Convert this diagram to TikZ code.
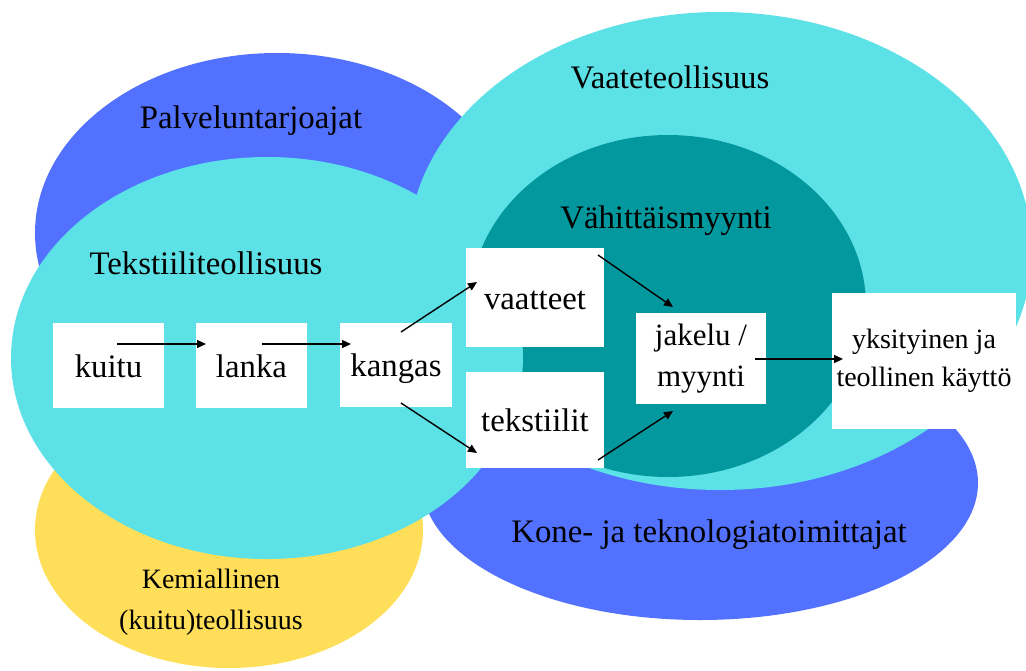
\documentclass[tikz,border=0pt]{standalone}
\usepackage{fontspec}
\setmainfont{Liberation Serif}
\usetikzlibrary{arrows.meta}
\definecolor{bluec}{HTML}{5271FF}
\definecolor{cyanc}{HTML}{5CE1E6}
\definecolor{tealc}{HTML}{03989E}
\definecolor{yellowc}{HTML}{FFDE59}
\tikzset{
  big/.style={font=\fontsize{32.8}{40}\selectfont},
  small/.style={font=\fontsize{28}{38}\selectfont},
  lbl/.style={big, anchor=base, inner sep=0pt},
  lblsmall/.style={small, anchor=base, inner sep=0pt},
  boxnode/.style={fill=white, inner sep=0pt, big, text height=23pt, text depth=0pt},
  flow/.style={line width=1.4pt, -{Triangle[length=9pt,width=8pt]}}
}
\begin{document}
\begin{tikzpicture}[x=1pt,y=-1pt]
\useasboundingbox (0,0) rectangle (1026,670);
% background ellipses
\fill[bluec] (277,233) ellipse [x radius=242pt, y radius=180pt];
\fill[yellowc] (229,530) ellipse [x radius=194pt, y radius=138pt];
\fill[bluec] (700,483) ellipse [x radius=278pt, y radius=137pt];
\fill[cyanc] (720,251) ellipse [x radius=312pt, y radius=239pt];
\fill[tealc] (668,306) ellipse [x radius=198pt, y radius=171pt];
\fill[cyanc] (267,358) ellipse [x radius=256pt, y radius=201pt];
% area labels
\node[lbl] (palvelu) at (251,128) {Palveluntarjoajat};
\node[lbl] (tekstiiliind) at (206,274) {Tekstiiliteollisuus};
\node[lbl] (vaateind) at (670,88) {Vaateteollisuus};
\node[lbl] (vahittais) at (666,228) {Vähittäismyynti};
\node[lbl] (kone) at (709,542) {Kone- ja teknologiatoimittajat};
\node[inner sep=0pt, align=center, font=\fontsize{28}{41}\selectfont] (kemia) at (211,602.5) {Kemiallinen\\(kuitu)teollisuus};
% boxes
\node[boxnode, minimum width=111pt, minimum height=85pt] (kuitu) at (108.5,365.5) {kuitu};
\node[boxnode, minimum width=111pt, minimum height=85pt] (lanka) at (251.5,365.5) {lanka};
\node[boxnode, minimum width=112pt, minimum height=84pt] (kangas) at (396,365) {kangas};
\node[boxnode, minimum width=138pt, minimum height=99pt] (vaatteet) at (535,297.5) {vaatteet};
\node[boxnode, minimum width=138pt, minimum height=96pt] (tekstiilit) at (535,420) {tekstiilit};
\node[fill=white, inner sep=0pt, minimum width=130pt, minimum height=91pt, align=center,
      font=\fontsize{31}{41}\selectfont] (jakelu) at (701,358.5) {jakelu /\\myynti};
\node[fill=white, inner sep=0pt, minimum width=184pt, minimum height=136pt, align=center,
      small] (kaytto) at (924,361) {yksityinen ja\\teollinen käyttö};
% arrow end points
\coordinate (a1s) at (117,344); \coordinate (a1e) at (206,344);
\coordinate (a2s) at (262,344); \coordinate (a2e) at (351,344);
\coordinate (a3s) at (401,332); \coordinate (a3e) at (477,282);
\coordinate (a4s) at (401,403); \coordinate (a4e) at (477,453);
\coordinate (a5s) at (598,255); \coordinate (a5e) at (673,307);
\coordinate (a6s) at (598,460); \coordinate (a6e) at (673,411);
\coordinate (a7s) at (755,359); \coordinate (a7e) at (843,359);
\draw[flow] (a1s) -- (a1e);
\draw[flow] (a2s) -- (a2e);
\draw[flow] (a3s) -- (a3e);
\draw[flow] (a4s) -- (a4e);
\draw[flow] (a5s) -- (a5e);
\draw[flow] (a6s) -- (a6e);
\draw[flow] (a7s) -- (a7e);
\end{tikzpicture}
\end{document}
